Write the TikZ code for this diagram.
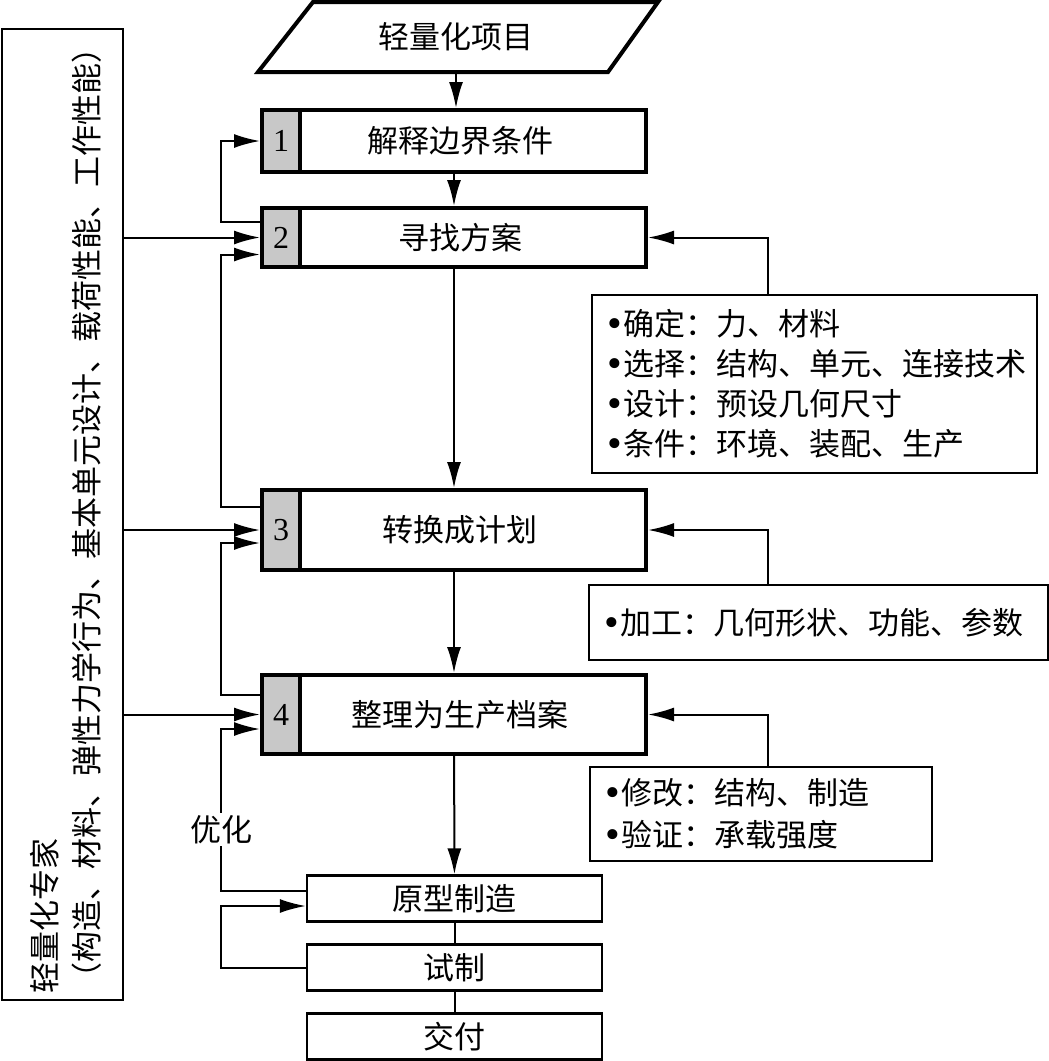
\documentclass[tikz,border=0pt]{standalone}
\usepackage{fontspec}
\setmainfont{Liberation Serif}
\newfontfamily\cjk{Noto Sans CJK SC}
\usepackage{tikz}
\usetikzlibrary{arrows.meta, positioning, calc}
\definecolor{cellgray}{RGB}{200, 200, 200}
\newcommand{\infobullet}{{\rmfamily\fontsize{21pt}{20pt}\selectfont\raisebox{-1pt}{\textbullet}}\kern1pt}

\begin{document}
\begin{tikzpicture}[x=0.5pt, y=-0.5pt,
    font=\cjk\fontsize{15.5pt}{20pt}\selectfont,
    >={Latex[length=13pt,width=7pt]},
    conn/.style={line width=1pt},
    mainbox/.style={draw, line width=2pt, minimum width=192pt, inner sep=0pt},
    numcell/.style={draw, line width=2pt, fill=cellgray, minimum width=19pt, inner sep=0pt, anchor=west,
        font=\rmfamily\fontsize{16pt}{18pt}\selectfont},
    infobox/.style={draw, line width=1.1pt, align=left, inner xsep=7.5pt, inner ysep=4pt},
    prodbox/.style={draw, line width=1.2pt, minimum width=147.5pt, minimum height=23pt, inner sep=0pt}]
    \useasboundingbox (0,0) rectangle (1049,1061);

    % Project input
    \node[minimum height=35pt, minimum width=150pt] (proj) at (456,37) {轻量化项目};
    \draw[line width=2pt] (258,72) -- (313,2) -- (658,2) -- (608,72) -- cycle;

    % Main steps
    \node[mainbox, minimum height=31pt] (b1) at (454,141) {\hspace*{6pt}解释边界条件};
    \node[mainbox, minimum height=29.5pt] (b2) at (454,237.5) {\hspace*{6pt}寻找方案};
    \node[mainbox, minimum height=40pt] (b3) at (454,530) {\hspace*{6pt}转换成计划};
    \node[mainbox, minimum height=39.5pt] (b4) at (454,714.5) {\hspace*{6pt}整理为生产档案};
    \node[numcell, minimum height=31pt] (n1) at (b1.west) {1};
    \node[numcell, minimum height=29.5pt] (n2) at (b2.west) {2};
    \node[numcell, minimum height=40pt] (n3) at (b3.west) {3};
    \node[numcell, minimum height=39.5pt] (n4) at (b4.west) {4};

    % Production
    \node[prodbox] (proto) at (454.5,898.5) {原型制造};
    \node[prodbox] (trial) at (454.5,967.5) {试制};
    \node[prodbox] (deliver) at (454.5,1036.5) {交付};

    % Expert knowledge
    \node[draw, line width=0.9pt, minimum width=60.5pt, minimum height=485.5pt, inner sep=0pt] (expert) at (62.5,514.5) {};
    \node[rotate=90, align=left, inner sep=0pt, font=\cjk\fontsize{15.5pt}{21pt}\selectfont] (experttxt) at (66,513) {轻量化专家\\（构造、材料、弹性力学行为、基本单元设计、载荷性能、工作性能）};

    % Task lists
    \node[infobox, text width=207.5pt, minimum height=89pt] (info1) at (814.5,384)
        {\infobullet 确定：力、材料\\\infobullet 选择：结构、单元、连接技术\\\infobullet 设计：预设几何尺寸\\\infobullet 条件：环境、装配、生产};
    \node[infobox, text width=214.5pt, minimum height=37.5pt] (info2) at (818.5,622.5)
        {\infobullet 加工：几何形状、功能、参数};
    \node[infobox, text width=156pt, minimum height=47pt, font=\cjk\fontsize{15.5pt}{21pt}\selectfont] (info3) at (761,814)
        {\infobullet 修改：结构、制造\\\infobullet 验证：承载强度};

    % Main flow
    \draw[->, conn] (proj.south) -- (proj.south |- b1.north);
    \draw[->, conn] (b1) -- (b2);
    \draw[->, conn] (b2) -- (b3);
    \draw[->, conn] (b3) -- (b4);
    \draw[->, conn] (b4) -- (proto);
    \draw[conn] (proto) -- (trial);
    \draw[conn] (trial) -- (deliver);

    % Feedback loops
    \coordinate (lx) at (221,0);
    \coordinate (in2) at ($(n2.west)+(0,17)$);
    \coordinate (in3) at ($(n3.west)+(0,13)$);
    \coordinate (in4) at ($(n4.west)+(0,14.5)$);
    \coordinate (inp) at ($(proto.west)+(0,7.5)$);
    \draw[->, conn] ($(n2.west)+(0,-16)$) -| (lx |- n1.west) -- (n1.west);
    \draw[->, conn] ($(n3.west)+(0,-23)$) -| (lx |- in2) -- (in2);
    \draw[->, conn] ($(n4.west)+(0,-20)$) -| (lx |- in3) -- (in3);
    \draw[->, conn] ($(proto.west)+(0,-7.5)$) -| node[pos=0.69, fill=white, inner sep=1pt] (opt) {优化} (lx |- in4) -- (in4);
    \draw[->, conn] (trial.west) -| (lx |- inp) -- (inp);

    % Inputs from the expert
    \draw[->, conn] (expert.east |- n2.west) -- (n2.west);
    \draw[->, conn] (expert.east |- n3.west) -- (n3.west);
    \draw[->, conn] (expert.east |- n4.west) -- (n4.west);

    % Inputs from the task lists
    \coordinate (rx) at (768,0);
    \draw[->, conn] (rx |- info1.north) |- (b2.east);
    \draw[->, conn] (rx |- info2.north) |- (b3.east);
    \draw[->, conn] (rx |- info3.north) |- (b4.east);
\end{tikzpicture}
\end{document}
